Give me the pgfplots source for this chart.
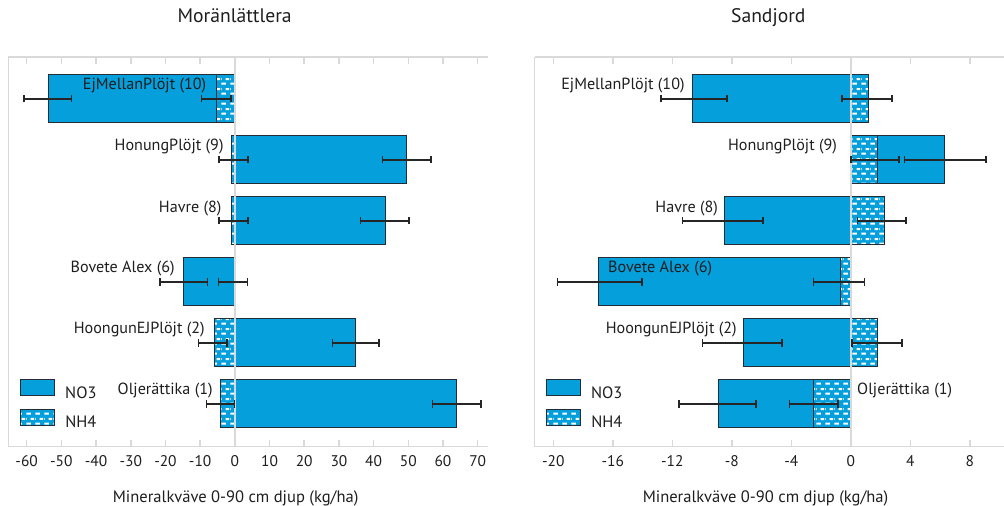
\documentclass[border=0pt]{standalone}
\usepackage{fontspec}
\setmainfont{PT Sans}
\usepackage{pgfplots}
\pgfplotsset{compat=1.18}
\usepackage{pgfplotstable}
\usetikzlibrary{patterns}

\definecolor{barblue}{RGB}{5,159,219}
\definecolor{edgec}{RGB}{35,45,55}
\definecolor{axgray}{RGB}{217,217,217}
\definecolor{txt}{RGB}{30,30,30}

\pgfdeclarepatternformonly{nhdash}{\pgfqpoint{0bp}{0bp}}{\pgfqpoint{8.5bp}{10bp}}{\pgfqpoint{8.5bp}{10bp}}{%
 \pgfpathrectangle{\pgfqpoint{0.5bp}{1.5bp}}{\pgfqpoint{4.5bp}{2.1bp}}%
 \pgfpathrectangle{\pgfqpoint{4.75bp}{6.5bp}}{\pgfqpoint{3.75bp}{2.1bp}}%
 \pgfpathrectangle{\pgfqpoint{0bp}{6.5bp}}{\pgfqpoint{0.75bp}{2.1bp}}%
 \pgfusepath{fill}}

% y: 0 = Oljerattika ... 5 = EjMellanPlojt
\pgfplotstableread{
y no3 no3m no3p nh4 nh4m nh4p
0 63.9 6.9 7.0 -4.0 4.1 3.9
1 34.8 6.7 6.7 -6.0 4.4 3.7
2 -14.9 6.7 7.1 0 4.7 3.65
3 43.5 7.2 6.7 -1.05 3.55 4.8
4 49.5 6.9 7.0 -1.05 3.55 4.8
5 -53.7 7.1 6.7 -5.2 4.4 4.05
}\leftdata

\pgfplotstableread{
y no3 no3m no3p nh4 nh4m nh4p
0 -8.9 2.64 2.53 -2.49 1.63 1.64
1 -7.19 2.76 2.57 1.77 1.68 1.66
2 -16.94 2.76 2.91 -0.67 1.84 1.59
3 -8.52 2.78 2.62 2.26 1.81 1.44
4 6.32 2.69 2.76 1.79 1.79 1.46
5 -10.62 2.13 2.30 1.19 1.79 1.57
}\rightdata

\tikzset{lab/.style={font=\fontsize{16.2}{19}\selectfont, text=txt, inner sep=0pt}}

\pgfplotsset{
 panel/.style={
  scale only axis, anchor=south west, height=389.7bp,
  ymin=-0.70, ymax=5.685, ytick=\empty,
  axis x line*=box, axis y line*=left,
  axis line style={axgray, line width=1.5bp},
  xtick pos=both, tick align=inside, major tick length=7bp,
  every tick/.style={axgray, line width=1.5bp},
  xticklabel style={font=\fontsize{15.5}{18}\selectfont, text=txt, anchor=base, yshift=-20bp},
  /pgf/number format/assume math mode=true,
  title style={font=\fontsize{19.7}{23}\selectfont, text=txt, anchor=base},
  xlabel style={font=\fontsize{16.6}{19}\selectfont, text=txt, anchor=base},
  legend style={draw=none, fill=none, inner sep=0pt, row sep=9bp,
    font=\fontsize{16.5}{19}\selectfont, text=txt, anchor=north west,
    nodes={inner sep=0pt}},
  legend image code/.code={\draw[##1] (0bp,-2.8bp) rectangle (34bp,13.2bp); \path (44bp,0bp);},
 },
 no3bar/.style={xbar, bar shift=0pt, bar width=0.787, fill=barblue, draw=edgec, line width=1bp},
 nh4bar/.style={xbar, bar shift=0pt, bar width=0.787, fill=barblue, draw=edgec, line width=1bp,
   postaction={pattern=nhdash, pattern color=white}},
 errs/.style={draw=none, mark=none, forget plot,
   error bars/.cd, x dir=both, x explicit, error mark=|,
   error bar style={draw=black!85, line width=1.4bp},
   error mark options={draw=black!85, line width=1.4bp, mark size=3.6bp}},
}

\begin{document}
\begin{tikzpicture}
\path[use as bounding box] (0,0) rectangle (1004bp,506bp);

\begin{axis}[panel, at={(8.3bp,59.3bp)}, width=480bp,
  xmin=-65.3, xmax=73.06, xtick={-60,-50,...,70},
  title={Moränlättlera}, title style={at={(axis description cs:0.4716,1)}, yshift=29bp},
  xlabel={Mineralkväve 0-90 cm djup (kg/ha)},
  xlabel style={at={(axis description cs:0.4736,0)}, yshift=-55.8bp},
  legend style={at={(axis description cs:0.0244,0.173)}}]
\addplot[no3bar] table[x=no3, y=y] {\leftdata};
\addlegendentry{NO3}
\addplot[nh4bar] table[x=nh4, y=y] {\leftdata};
\addlegendentry{NH4}
\addplot[axgray, line width=1.5bp, forget plot] coordinates {(0,-0.70) (0,5.685)};
\addplot[errs] table[x=no3, y=y, x error minus=no3m, x error plus=no3p] {\leftdata};
\addplot[errs] table[x=nh4, y=y, x error minus=nh4m, x error plus=nh4p] {\leftdata};
\node[lab, anchor=east] at (axis cs:-8.2,5.21) {EjMellanPlöjt (10)};
\node[lab, anchor=east] at (axis cs:-3.2,4.21) {HonungPlöjt (9)};
\node[lab, anchor=east] at (axis cs:-3.8,3.21) {Havre (8)};
\node[lab, anchor=east] at (axis cs:-17.3,2.22) {Bovete Alex (6)};
\node[lab, anchor=east] at (axis cs:-8.65,1.22) {HoongunEJPlöjt (2)};
\node[lab, anchor=east] at (axis cs:-6.35,0.22) {Oljerättika (1)};
\end{axis}

\begin{axis}[panel, at={(534.7bp,59.3bp)}, width=469.3bp,
  xmin=-21.25, xmax=10.3, xtick={-20,-16,...,8},
  title={Sandjord}, title style={at={(axis description cs:0.4978,1)}, yshift=29bp},
  xlabel={Mineralkväve 0-90 cm djup (kg/ha)},
  xlabel style={at={(axis description cs:0.4918,0)}, yshift=-55.8bp},
  legend style={at={(axis description cs:0.024,0.173)}}]
\addplot[no3bar] table[x=no3, y=y] {\rightdata};
\addlegendentry{NO3}
\addplot[nh4bar] table[x=nh4, y=y] {\rightdata};
\addlegendentry{NH4}
\addplot[axgray, line width=1.5bp, forget plot] coordinates {(0,-0.70) (0,5.685)};
\addplot[errs] table[x=no3, y=y, x error minus=no3m, x error plus=no3p] {\rightdata};
\addplot[errs] table[x=nh4, y=y, x error minus=nh4m, x error plus=nh4p] {\rightdata};
\node[lab, anchor=east] at (axis cs:-11.16,5.21) {EjMellanPlöjt (10)};
\node[lab, anchor=east] at (axis cs:-0.92,4.21) {HonungPlöjt (9)};
\node[lab, anchor=east] at (axis cs:-8.92,3.21) {Havre (8)};
\node[lab, anchor=west] at (axis cs:-16.32,2.22) {Bovete Alex (6)};
\node[lab, anchor=east] at (axis cs:-7.66,1.22) {HoongunEJPlöjt (2)};
\node[lab, anchor=west] at (axis cs:0.42,0.22) {Oljerättika (1)};
\end{axis}
\end{tikzpicture}
\end{document}
